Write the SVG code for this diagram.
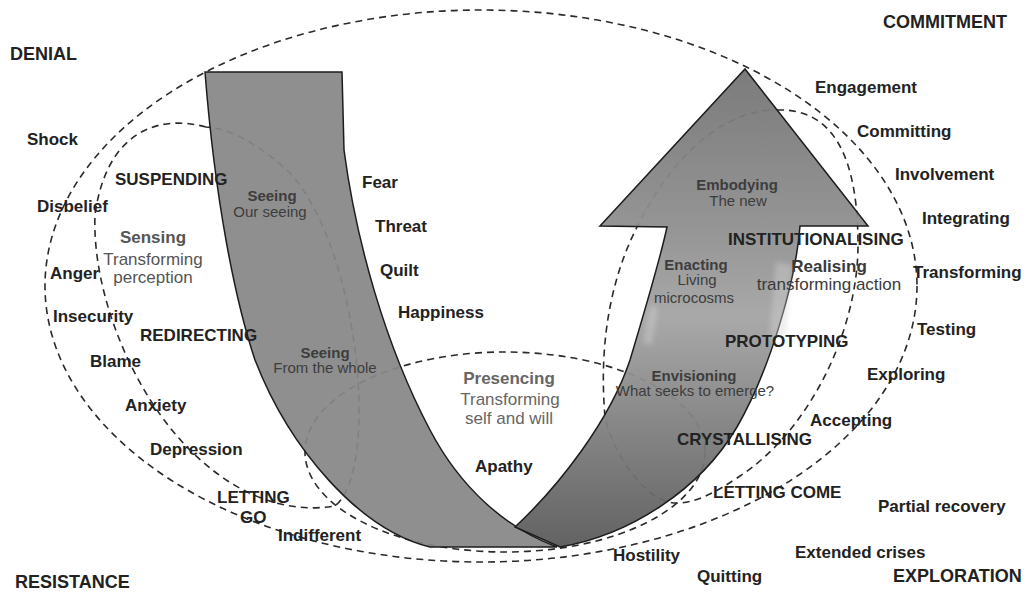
<svg xmlns="http://www.w3.org/2000/svg" width="1029" height="592" viewBox="0 0 1029 592">
  <defs>
    <style>
      text { font-family: "Liberation Sans", Arial, sans-serif; }
      .lbl { font-size: 17px; font-weight: bold; fill: #222; }
      .hdr { font-size: 18px; font-weight: bold; fill: #222; }
      .soft { font-size: 17px; fill: #555; text-anchor: middle; }
      .soft-b { font-weight: bold; }
      .band-t { font-size: 15px; fill: #3d3d3d; text-anchor: middle; }
      .band-tb { font-weight: bold; }
      .dash { fill: none; stroke: #2a2a2a; stroke-width: 1.6; stroke-dasharray: 7 5; }
      .band { stroke: #1c1c1c; stroke-width: 1.5; stroke-linejoin: miter; }
      .speckle { fill: #d4d4d4; opacity: 0.4; }
    </style>
    <linearGradient id="riseFill" x1="0" y1="69" x2="0" y2="547" gradientUnits="userSpaceOnUse">
      <stop offset="0" stop-color="#747474"/>
      <stop offset="0.33" stop-color="#8f8f8f"/>
      <stop offset="0.52" stop-color="#a4a4a4"/>
      <stop offset="0.7" stop-color="#878787"/>
      <stop offset="1" stop-color="#5a5a5a"/>
    </linearGradient>
    <filter id="soften" x="-50%" y="-50%" width="200%" height="200%">
      <feGaussianBlur stdDeviation="2.5"/>
    </filter>
  </defs>

  <!-- dashed cycles (drawn beneath the bands) -->
  <g id="cycles">
    <ellipse class="dash" cx="481" cy="286" rx="436" ry="276"/>
    <path class="dash" d="M206,127 C150,112 105,140 95,215 C92,290 130,390 190,450 C230,490 280,515 335,506 C380,470 360,250 290,173 C260,145 230,128 206,127 Z"/>
    <path class="dash" d="M777,110 C835,108 858,160 858,245 C858,330 810,430 740,476 C715,493 695,503 678,503 C650,505 615,460 605,417 C600,360 605,290 637,227 C670,160 720,110 777,110 Z"/>
    <ellipse class="dash" cx="505" cy="452" rx="200" ry="100"/>
  </g>

  <!-- descending band -->
  <g id="descent-band">
    <path class="band" fill="#878787" fill-opacity="0.93" d="M205,72 L342,72 L344,150 C356,240 385,345 430,430 C460,487 505,528 557,547 L430,547 C360,530 290,450 255,360 C235,300 215,200 205,72 Z"/>
  </g>

  <!-- rising arrow -->
  <g id="rise-arrow">
    <path class="band" fill="url(#riseFill)" fill-opacity="0.95" d="M515,527 C560,485 610,420 630,360 C645,310 660,260 667,227 L600,226 L745,69 L868,226 L800,226 C796,280 770,370 737,427 C700,490 630,535 560,547 Z"/>
    <g filter="url(#soften)">
      <path class="speckle" d="M776,262 L792,265 L786,335 L769,340 Z"/>
      <path class="speckle" d="M650,305 L658,307 L652,345 L643,343 Z"/>
    </g>
  </g>

  <!-- quadrant headings -->
  <g id="denial"><text class="hdr" x="10" y="60">DENIAL</text></g>
  <g id="commitment"><text class="hdr" x="883" y="28">COMMITMENT</text></g>
  <g id="resistance"><text class="hdr" x="15" y="588">RESISTANCE</text></g>
  <g id="exploration"><text class="hdr" x="893" y="582">EXPLORATION</text></g>

  <!-- left side: reactions -->
  <g id="shock"><text class="lbl" x="27" y="145">Shock</text></g>
  <g id="disbelief"><text class="lbl" x="37" y="212">Disbelief</text></g>
  <g id="anger"><text class="lbl" x="50" y="279">Anger</text></g>
  <g id="insecurity"><text class="lbl" x="53" y="322">Insecurity</text></g>
  <g id="blame"><text class="lbl" x="90" y="367">Blame</text></g>
  <g id="anxiety"><text class="lbl" x="125" y="411">Anxiety</text></g>
  <g id="depression"><text class="lbl" x="150" y="455">Depression</text></g>
  <g id="indifferent"><text class="lbl" x="278" y="541">Indifferent</text></g>

  <!-- left side: movements -->
  <g id="suspending"><text class="lbl" x="115" y="185">SUSPENDING</text></g>
  <g id="redirecting"><text class="lbl" x="140" y="341">REDIRECTING</text></g>
  <g id="letting-go">
    <text class="lbl" x="217" y="503">LETTING</text>
    <text class="lbl" x="240" y="523">GO</text>
  </g>
  <g id="sensing">
    <text class="soft soft-b" x="153" y="243">Sensing</text>
    <text class="soft" x="153" y="265">Transforming</text>
    <text class="soft" x="153" y="283">perception</text>
  </g>

  <!-- stages inside the bands -->
  <g id="seeing-our-seeing">
    <text class="band-t band-tb" x="272" y="201">Seeing</text>
    <text class="band-t" x="270" y="217">Our seeing</text>
  </g>
  <g id="seeing-whole">
    <text class="band-t band-tb" x="325" y="358">Seeing</text>
    <text class="band-t" x="325" y="373">From the whole</text>
  </g>
  <g id="embodying">
    <text class="band-t band-tb" x="737" y="190">Embodying</text>
    <text class="band-t" x="738" y="206">The new</text>
  </g>
  <g id="enacting">
    <text class="band-t band-tb" x="696" y="270">Enacting</text>
    <text class="band-t" x="697" y="285">Living</text>
    <text class="band-t" x="694" y="303">microcosms</text>
  </g>
  <g id="envisioning">
    <text class="band-t band-tb" x="694" y="381">Envisioning</text>
    <text class="band-t" x="695" y="396">What seeks to emerge?</text>
  </g>

  <!-- centre -->
  <g id="fear"><text class="lbl" x="362" y="188">Fear</text></g>
  <g id="threat"><text class="lbl" x="375" y="232">Threat</text></g>
  <g id="quilt"><text class="lbl" x="380" y="276">Quilt</text></g>
  <g id="happiness"><text class="lbl" x="398" y="318">Happiness</text></g>
  <g id="presencing">
    <text class="soft soft-b" x="509" y="384" style="fill:#666">Presencing</text>
    <text class="soft" x="510" y="405" style="fill:#666">Transforming</text>
    <text class="soft" x="509" y="424" style="fill:#666">self and will</text>
  </g>
  <g id="apathy"><text class="lbl" x="475" y="472">Apathy</text></g>

  <!-- right side: movements -->
  <g id="institutionalising"><text class="lbl" x="728" y="245">INSTITUTIONALISING</text></g>
  <g id="realising">
    <text class="soft soft-b" x="829" y="272" style="fill:#3a3a3a">Realising</text>
    <text class="soft" x="829" y="290" style="fill:#3a3a3a">transforming action</text>
  </g>
  <g id="prototyping"><text class="lbl" x="725" y="347">PROTOTYPING</text></g>
  <g id="crystallising"><text class="lbl" x="677" y="445">CRYSTALLISING</text></g>
  <g id="letting-come"><text class="lbl" x="713" y="498">LETTING COME</text></g>

  <!-- right side: responses -->
  <g id="engagement"><text class="lbl" x="815" y="93">Engagement</text></g>
  <g id="committing"><text class="lbl" x="857" y="137">Committing</text></g>
  <g id="involvement"><text class="lbl" x="895" y="180">Involvement</text></g>
  <g id="integrating"><text class="lbl" x="922" y="224">Integrating</text></g>
  <g id="transforming"><text class="lbl" x="913" y="278">Transforming</text></g>
  <g id="testing"><text class="lbl" x="917" y="335">Testing</text></g>
  <g id="exploring"><text class="lbl" x="867" y="380">Exploring</text></g>
  <g id="accepting"><text class="lbl" x="810" y="426">Accepting</text></g>
  <g id="partial-recovery"><text class="lbl" x="878" y="512">Partial recovery</text></g>
  <g id="extended-crises"><text class="lbl" x="795" y="558">Extended crises</text></g>
  <g id="hostility"><text class="lbl" x="613" y="561">Hostility</text></g>
  <g id="quitting"><text class="lbl" x="697" y="582">Quitting</text></g>
</svg>
